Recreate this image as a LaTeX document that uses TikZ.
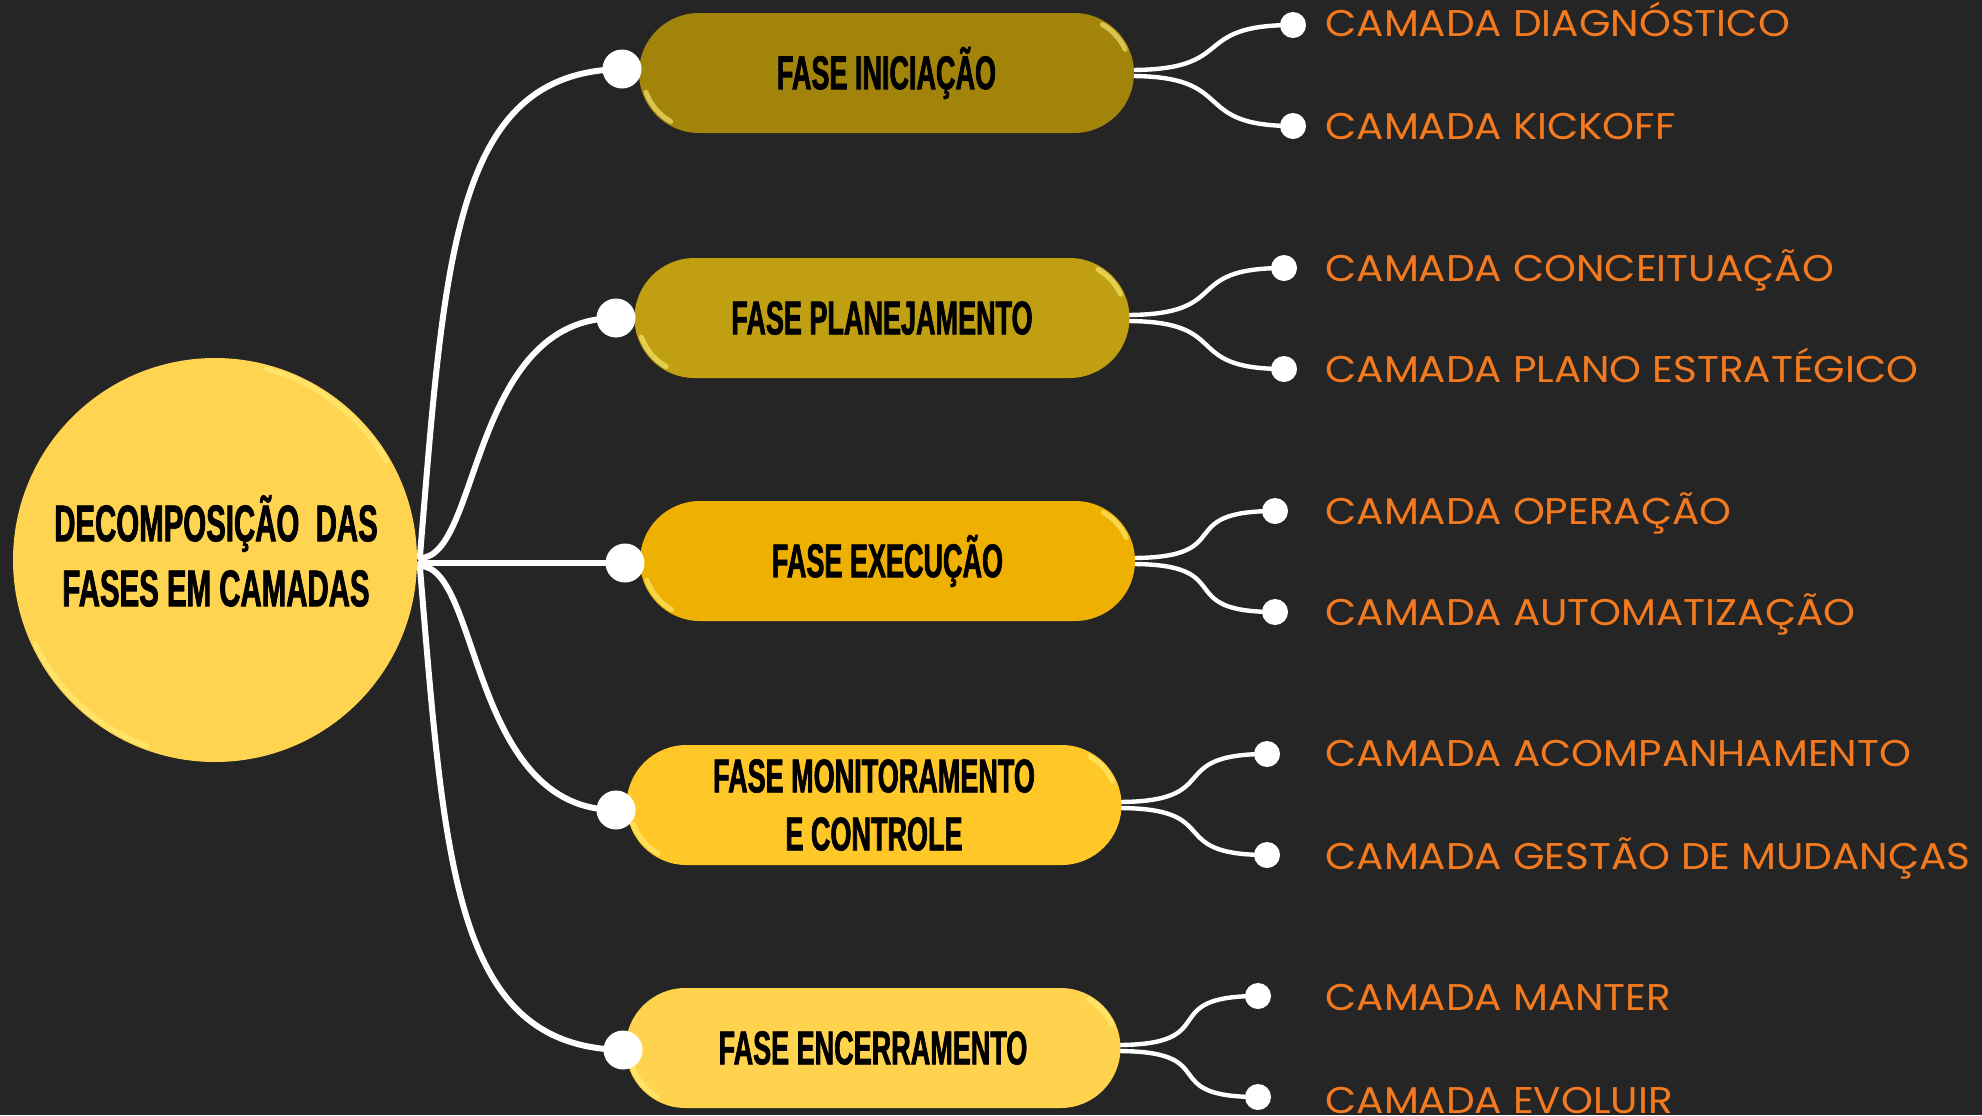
\documentclass[tikz,border=0pt]{standalone}
\usepackage{fontspec}
\usetikzlibrary{shapes.misc,calc}
\newfontfamily\bebas[FakeStretch=0.57,FakeBold=1.4]{Liberation Sans Bold}
\newfontfamily\labfont[FakeStretch=1.09]{Poppins}
\definecolor{bgc}{HTML}{252525}
\definecolor{cA}{HTML}{A3840A}
\definecolor{cB}{HTML}{C09F12}
\definecolor{cC}{HTML}{EEB102}
\definecolor{cD}{HTML}{FFC727}
\definecolor{cE}{HTML}{FFD34D}
\definecolor{cCirc}{HTML}{FFD451}
\definecolor{labc}{HTML}{F47A20}
\definecolor{hlc}{HTML}{FFF07A}
\pgfdeclarelayer{back}
\pgfsetlayers{back,main}
\begin{document}
\begin{tikzpicture}[x=0.5pt,y=-0.5pt,
  wire/.style={white,line width=3pt,line cap=round},
  twig/.style={white,line width=2.2pt,line cap=round},
  pill/.style={rounded rectangle,minimum width=247.5pt,minimum height=60pt,inner sep=0pt,align=center,text=black,font=\bebas\fontsize{23.7}{29}\selectfont},
  bigdot/.style={circle,fill=white,minimum size=19.5pt,inner sep=0pt},
  smalldot/.style={circle,fill=white,minimum size=13pt,inner sep=0pt},
  lab/.style={anchor=base west,inner sep=0pt,text=labc,font=\labfont\fontsize{18.6}{22}\selectfont},
  hlite/.style={draw=hlc,line width=2.5pt,line cap=round,opacity=0.6}
]
\begin{pgfonlayer}{back}
\fill[bgc] (0,0) rectangle (1982,1115);
\end{pgfonlayer}
\useasboundingbox (0,0) rectangle (1982,1115);

% central circle
\node[circle,fill=cCirc,minimum size=202pt,inner sep=0pt] (c) at (215,560) {};
\node[inner sep=0pt,align=center,font=\bebas\fontsize{25.8}{32.5}\selectfont] (ctext) at (216,551) {DECOMPOSIÇÃO\ \ DAS\\FASES EM CAMADAS};

% phase pills
\node[pill,fill=cA] (p1) at (886.5,73) {FASE INICIAÇÃO};
\node[pill,fill=cB] (p2) at (882,318) {FASE PLANEJAMENTO};
\node[pill,fill=cC] (p3) at (887.5,561) {FASE EXECUÇÃO};
\node[pill,fill=cD] (p4) at (874,805) {FASE MONITORAMENTO\\E CONTROLE};
\node[pill,fill=cE] (p5) at (873,1048) {FASE ENCERRAMENTO};

% highlights
\foreach \p in {p1,p2,p3,p4,p5}{
  \draw[hlite] ($(\p.west)+(60,0)+(120:56)$) arc[start angle=120,end angle=160,radius=56];
  \draw[hlite] ($(\p.east)+(-60,0)+(300:56)$) arc[start angle=300,end angle=335,radius=56];
}
\draw[hlite] ($(c.center)+(285:198)$) arc[start angle=285,end angle=330,radius=198];
\draw[hlite] ($(c.center)+(110:198)$) arc[start angle=110,end angle=155,radius=198];

% left dots
\node[bigdot] (d1) at (622,69) {};
\node[bigdot] (d2) at (616,318) {};
\node[bigdot] (d3) at (625,563) {};
\node[bigdot] (d4) at (616,810) {};
\node[bigdot] (d5) at (623,1050) {};

% right dots
\node[smalldot] (r1a) at (1293,25) {};
\node[smalldot] (r1b) at (1293,126) {};
\node[smalldot] (r2a) at (1284,268) {};
\node[smalldot] (r2b) at (1284,369) {};
\node[smalldot] (r3a) at (1275,511) {};
\node[smalldot] (r3b) at (1275,612) {};
\node[smalldot] (r4a) at (1267,754) {};
\node[smalldot] (r4b) at (1267,855) {};
\node[smalldot] (r5a) at (1258,996) {};
\node[smalldot] (r5b) at (1258,1097) {};

% labels
\node[lab] (l1a) at (1325,36) {CAMADA DIAGNÓSTICO};
\node[lab] (l1b) at (1325,139) {CAMADA KICKOFF};
\node[lab] (l2a) at (1325,281) {CAMADA CONCEITUAÇÃO};
\node[lab] (l2b) at (1325,382) {CAMADA PLANO ESTRATÉGICO};
\node[lab] (l3a) at (1325,524) {CAMADA OPERAÇÃO};
\node[lab] (l3b) at (1325,625) {CAMADA AUTOMATIZAÇÃO};
\node[lab] (l4a) at (1325,766) {CAMADA ACOMPANHAMENTO};
\node[lab] (l4b) at (1325,869) {CAMADA GESTÃO DE MUDANÇAS};
\node[lab] (l5a) at (1325,1010) {CAMADA MANTER};
\node[lab] (l5b) at (1325,1113) {CAMADA EVOLUIR};

% hub coordinates
\coordinate (h1) at (420,556);
\coordinate (h2) at (420,558);
\coordinate (h3) at (420,563);
\coordinate (h4) at (420,566);
\coordinate (h5) at (420,568);

\begin{pgfonlayer}{back}
\draw[wire] (h1) .. controls (445,250) and (455,72) .. (d1.center);
\draw[wire] (h2) .. controls (480,558) and (470,318) .. (d2.center);
\draw[wire] (h3) -- (d3.center);
\draw[wire] (h4) .. controls (480,566) and (470,810) .. (d4.center);
\draw[wire] (h5) .. controls (445,870) and (455,1047) .. (d5.center);
\end{pgfonlayer}

% right twigs
\begin{pgfonlayer}{back}
\foreach \p/\a/\b in {p1/r1a/r1b,p2/r2a/r2b,p3/r3a/r3b,p4/r4a/r4b,p5/r5a/r5b}{
  \draw[twig] ($(\p.east)+(-4,-3)$) .. controls ($(\p.east)+(105,-3)$) and ($(\a.center)+(-105,0)$) .. (\a.center);
  \draw[twig] ($(\p.east)+(-4,3)$) .. controls ($(\p.east)+(105,3)$) and ($(\b.center)+(-105,0)$) .. (\b.center);
}
\end{pgfonlayer}
\end{tikzpicture}
\end{document}
